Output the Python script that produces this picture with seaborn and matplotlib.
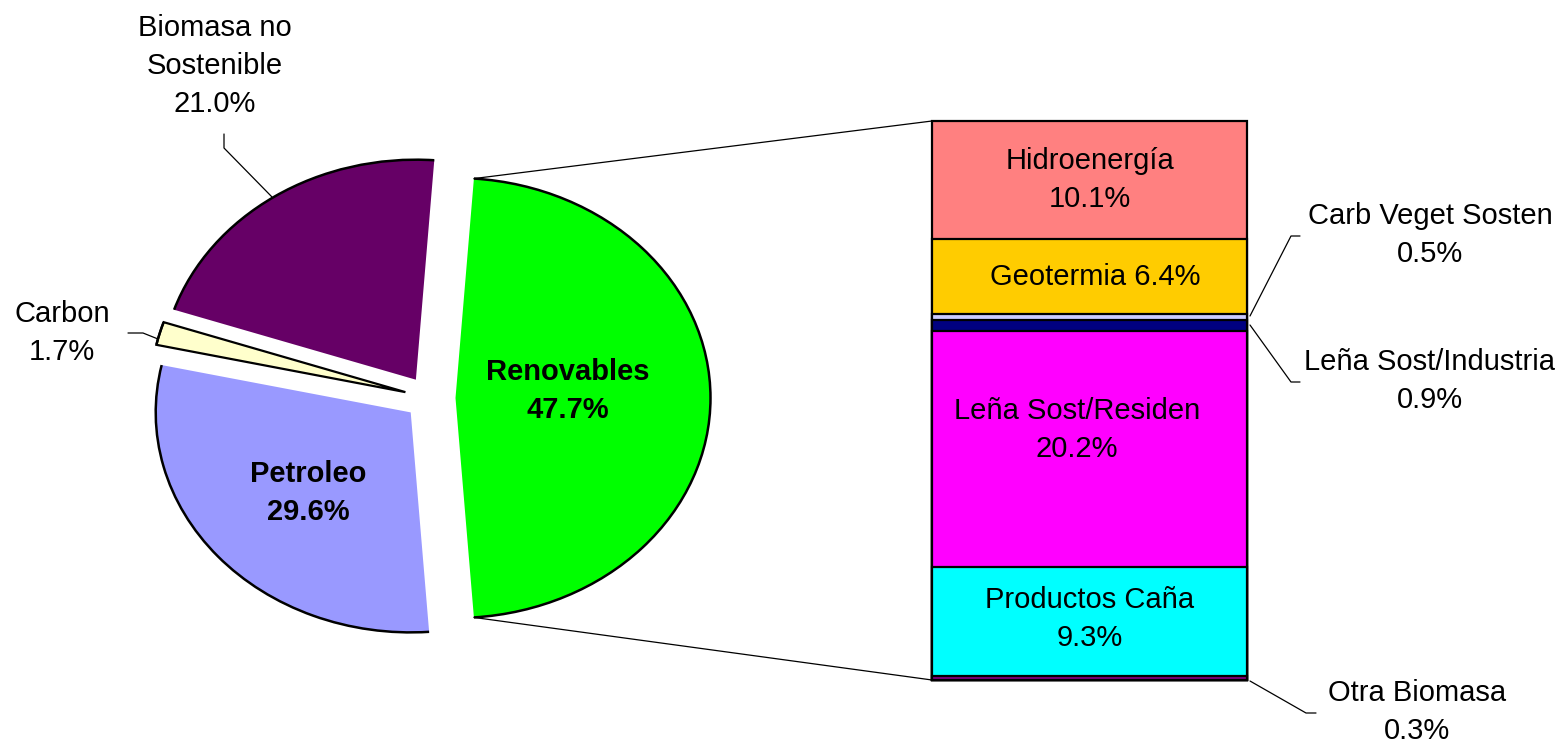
import numpy as np
import matplotlib
matplotlib.use("Agg")
import matplotlib.pyplot as plt
import seaborn as sns
from matplotlib.patches import Arc, ConnectionPatch

# ---------------- data ----------------
pie_labels = ["Renovables", "Biomasa no\nSostenible", "Carbon", "Petroleo"]
pie_values = [47.7, 21.0, 1.7, 29.6]
pie_colors = ["#00FF00", "#660066", "#FFFFCC", "#9999FF"]

bar_labels = ["Otra Biomasa", "Productos Caña", "Leña Sost/Residen",
              "Leña Sost/Industria", "Carb Veget Sosten", "Geotermia", "Hidroenergía"]
bar_values = [0.3, 9.3, 20.2, 0.9, 0.5, 6.4, 10.1]
bar_colors = ["#800080", "#00FFFF", "#FF00FF", "#000080", "#CCCCFF", "#FFCC00", "#FF8080"]

# ---------------- style ----------------
sns.set_theme(style="white")
plt.rcParams["font.family"] = ["Liberation Sans", "DejaVu Sans"]
FS = 21

W, H = 1565, 744
fig = plt.figure(figsize=(W / 100, H / 100), dpi=100)
fig.patch.set_facecolor("white")

# ---------------- pie ----------------
rx, ry = 255, 220
cx, cy = 430, 398
pw = 860
ax_pie = fig.add_axes([0, 0, pw / W, 1])
start = -pie_values[0] * 3.6 / 2
wedges, _ = ax_pie.pie(pie_values, colors=pie_colors, startangle=start,
                       explode=[0.1] * len(pie_values), radius=1,
                       wedgeprops=dict(linewidth=0))
ax_pie.set_aspect("auto")
ax_pie.set_xlim(-cx / rx, (pw - cx) / rx)
ax_pie.set_ylim((cy - H) / ry, cy / ry)
ax_pie.axis("off")
for i, w in enumerate(wedges):
    if pie_labels[i] == "Carbon":
        w.set_edgecolor("black")
        w.set_linewidth(1.6)
    ax_pie.add_patch(Arc(w.center, 2 * w.r, 2 * w.r, theta1=w.theta1, theta2=w.theta2,
                         color="black", lw=1.8, zorder=3))

# ---------------- stacked bar ----------------
bx0, bx1, by0, by1 = 932, 1247, 121, 680
ax_bar = fig.add_axes([bx0 / W, (H - by1) / H, (bx1 - bx0) / W, (by1 - by0) / H])
cum = np.cumsum(bar_values)
total = cum[-1]
for i in reversed(range(len(bar_values))):
    sns.barplot(x=["Renovables"], y=[cum[i]], color=bar_colors[i], saturation=1,
                width=1, edgecolor="black", linewidth=1.6, errorbar=None, ax=ax_bar)
for p in ax_bar.patches:
    p.set_clip_on(False)
ax_bar.set_xlim(-0.5, 0.5)
ax_bar.set_ylim(0, total)
ax_bar.axis("off")

# ---------------- connectors pie -> bar ----------------
gw = wedges[0]
for ang, yb in [(gw.theta2, total), (gw.theta1, 0)]:
    px = gw.center[0] + np.cos(np.radians(ang))
    py = gw.center[1] + np.sin(np.radians(ang))
    con = ConnectionPatch(xyA=(px, py), coordsA=ax_pie.transData,
                          xyB=(-0.5, yb), coordsB=ax_bar.transData,
                          color="black", lw=0.9)
    fig.add_artist(con)

# ---------------- overlay for labels (pixel coords) ----------------
ov = fig.add_axes([0, 0, 1, 1], zorder=10)
ov.set_xlim(0, W)
ov.set_ylim(H, 0)
ov.axis("off")
ov.patch.set_alpha(0)

def txt(x, y, s, bold=False):
    ov.text(x, y, s, ha="center", va="center", fontsize=FS, linespacing=1.45,
            fontweight="bold" if bold else "normal", color="black")

# pie labels
txt(568, 391, f"{pie_labels[0]}\n{pie_values[0]:.1f}%", bold=True)
txt(215, 66, f"{pie_labels[1]}\n{pie_values[1]:.1f}%")
txt(62, 333, f"{pie_labels[2]}\n{pie_values[2]:.1f}%")
txt(308, 493, f"{pie_labels[3]}\n{pie_values[3]:.1f}%", bold=True)

# bar labels (inside)
def seg_center_px(i):
    mid = cum[i] - bar_values[i] / 2
    return by1 - mid / total * (by1 - by0)

bxc = (bx0 + bx1) / 2
txt(bxc, seg_center_px(6), f"{bar_labels[6]}\n{bar_values[6]:.1f}%")
txt(bxc + 6, seg_center_px(5), f"{bar_labels[5]} {bar_values[5]:.1f}%")
txt(1077, 430, f"{bar_labels[2]}\n{bar_values[2]:.1f}%")
txt(bxc, seg_center_px(1) - 3, f"{bar_labels[1]}\n{bar_values[1]:.1f}%")

# bar labels (outside)
txt(1430, 235, f"{bar_labels[4]}\n{bar_values[4]:.1f}%")
txt(1430, 381, f"{bar_labels[3]}\n{bar_values[3]:.1f}%")
txt(1417, 712, f"{bar_labels[0]}\n{bar_values[0]:.1f}%")

# leader lines
lk = dict(color="black", lw=0.9)
ov.plot([1250, 1291, 1300], [316, 236, 236], **lk)
ov.plot([1250, 1291, 1300], [325, 382, 382], **lk)
ov.plot([1250, 1306, 1316], [681, 713, 713], **lk)
ov.plot([272, 224, 224], [197, 148, 134], **lk)
ov.plot([158, 143, 128], [339, 333, 333], **lk)

fig.savefig("out.png", dpi=100, facecolor="white")
